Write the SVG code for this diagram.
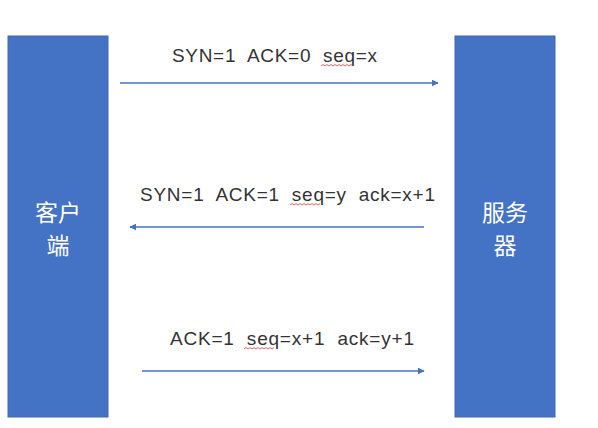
<svg xmlns="http://www.w3.org/2000/svg" width="598" height="428" viewBox="0 0 598 428">
<style>
.node{fill:#4472C4;stroke:#3F68B5;stroke-width:1}
.cn{font-family:"Noto Sans CJK SC",sans-serif;font-size:23px;fill:#fff;text-anchor:middle}
.lbl{font-family:"Liberation Sans",Arial,sans-serif;font-size:19px;fill:#333;white-space:pre}
.conn{stroke:#4472C4;stroke-width:1.3;fill:none}
.sq{stroke:#D04040;stroke-width:0.8;fill:none}
</style>
<defs>
<marker id="ah" viewBox="0 0 10 10" refX="9" refY="5" markerWidth="7" markerHeight="7" orient="auto-start-reverse" markerUnits="userSpaceOnUse">
<path d="M0,0 L10,5 L0,10 z" fill="#4472C4"/>
</marker>
</defs>
<rect width="598" height="428" fill="#fff"/>
<g id="client">
<rect class="node" x="8" y="36" width="100" height="381"/>
<text class="cn" x="58" y="221">客户</text>
<text class="cn" x="58" y="254">端</text>
</g>
<g id="server">
<rect class="node" x="455" y="36" width="100" height="381"/>
<text class="cn" x="505" y="221">服务</text>
<text class="cn" x="505" y="254">器</text>
</g>
<g id="connectors">
<line class="conn" x1="120" y1="83" x2="438" y2="83" marker-end="url(#ah)"/>
<line class="conn" x1="424" y1="227" x2="130" y2="227" marker-end="url(#ah)"/>
<line class="conn" x1="142" y1="371" x2="424" y2="371" marker-end="url(#ah)"/>
</g>
<g id="labels">
<text class="lbl" x="172" y="62" textLength="205" lengthAdjust="spacing" xml:space="preserve">SYN=1  ACK=0  seq=x</text>
<text class="lbl" x="140" y="201" textLength="295" lengthAdjust="spacing" xml:space="preserve">SYN=1  ACK=1  seq=y  ack=x+1</text>
<text class="lbl" x="170" y="345" textLength="244" lengthAdjust="spacing" xml:space="preserve">ACK=1  seq=x+1  ack=y+1</text>
<path class="sq" d="M321,66 l2,-1.5 l2,1.5 l2,-1.5 l2,1.5 l2,-1.5 l2,1.5 l2,-1.5 l2,1.5 l2,-1.5 l2,1.5 l2,-1.5 l2,1.5 l2,-1.5 l2,1.5 l2,-1.5 l2,1.5"/>
<path class="sq" d="M290,205 l2,-1.5 l2,1.5 l2,-1.5 l2,1.5 l2,-1.5 l2,1.5 l2,-1.5 l2,1.5 l2,-1.5 l2,1.5 l2,-1.5 l2,1.5 l2,-1.5 l2,1.5 l2,-1.5"/>
<path class="sq" d="M244,349 l2,-1.5 l2,1.5 l2,-1.5 l2,1.5 l2,-1.5 l2,1.5 l2,-1.5 l2,1.5 l2,-1.5 l2,1.5 l2,-1.5 l2,1.5 l2,-1.5 l2,1.5 l2,-1.5"/>
</g>
</svg>
